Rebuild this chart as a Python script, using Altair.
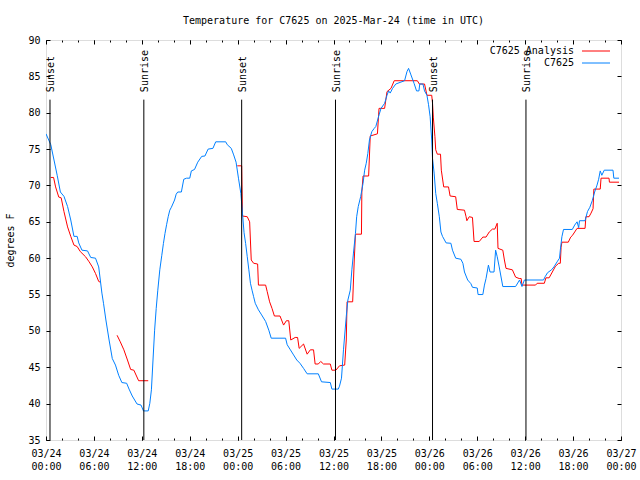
import altair as alt
import pandas as pd

# ---------------- data (hours since 03/24 00:00 UTC, degrees F) ----------------
blue_h = [0.0, 0.6, 1.0, 1.4, 1.8, 2.25, 2.7, 3.1, 3.5, 3.9, 4.1, 4.5, 5.2, 5.6, 6.2, 6.6, 6.8, 7.0, 7.2, 7.5,
          7.9, 8.3, 8.7, 9.1, 9.5, 10.1, 10.4, 10.8, 11.4, 11.9, 12.2, 12.8, 13.0, 13.2, 13.4, 13.6, 13.8, 14.0,
          14.25, 14.5, 14.7, 14.9, 15.1, 15.3, 15.5, 15.7, 16.1, 16.3, 16.5, 16.95, 17.25, 17.6, 18.0, 18.2, 18.6,
          19.0, 19.5, 19.9, 20.3, 20.9, 21.25, 22.5, 22.7, 23.2, 23.5, 23.8, 24.1, 24.4, 24.6, 24.8, 25.0, 25.2,
          25.4, 25.6, 25.8, 26.0, 26.2, 26.6, 27.0, 27.5, 27.9, 28.2, 30.0, 30.2, 30.6, 31.0, 31.4, 31.8, 32.25,
          32.7, 34.1, 34.5, 35.6, 35.8, 36.6, 36.75, 37.0, 37.25, 37.6, 37.8, 38.1, 38.3, 38.5, 38.75, 38.9, 39.1,
          39.4, 39.7, 39.9, 40.1, 40.3, 40.5, 40.8, 41.1, 41.3, 41.7, 41.95, 42.4, 42.7, 42.9, 43.1, 43.4, 43.8,
          44.9, 45.2, 45.4, 45.7, 46.1, 46.4, 46.7, 46.8, 47.2, 47.4, 47.7, 47.9, 48.1, 48.3, 48.4, 48.6, 48.8,
          49.0, 49.25, 49.45, 49.65, 50.1, 50.7, 50.9, 51.3, 51.95, 52.2, 52.4, 52.8, 53.2, 53.4, 54.0, 54.1, 54.7,
          54.9, 55.1, 55.4, 55.6, 56.1, 56.3, 56.5, 56.75, 57.2, 58.8, 59.3, 59.6, 59.9, 62.3, 62.5, 62.8, 63.3,
          63.6, 64.0, 64.3, 64.4, 64.6, 64.8, 65.9, 66.2, 66.5, 66.7, 66.8, 67.5, 67.8, 68.1, 68.4, 68.7, 69.0,
          69.2, 69.4, 69.6, 69.9, 71.0, 71.1, 71.75]
blue_t = [77.1, 75.6, 73.5, 71.4, 69.1, 68.5, 67.1, 65.25, 63.0, 63.0, 62.1, 61.1, 61.0, 60.1, 60.0, 58.8, 57.0,
          55.2, 53.8, 51.5, 48.75, 46.2, 45.3, 43.9, 42.9, 42.8, 42.0, 41.05, 39.95, 39.8, 39.0, 39.0, 40.05, 41.9,
          46.0, 50.1, 53.1, 55.6, 58.4, 60.4, 62.0, 63.4, 64.6, 65.7, 66.6, 67.0, 68.0, 68.8, 69.1, 69.1, 70.85,
          71.0, 71.0, 72.0, 72.2, 73.2, 74.0, 74.05, 75.0, 75.1, 76.0, 76.0, 75.6, 75.1, 74.2, 73.2, 71.0, 68.9,
          66.2, 63.5, 62.0, 60.2, 58.4, 56.55, 55.6, 54.7, 53.8, 52.9, 52.2, 51.3, 50.1, 49.0, 49.0, 48.1, 47.4,
          46.7, 46.0, 45.55, 44.85, 44.1, 44.1, 43.0, 42.9, 42.0, 42.0, 42.4, 43.5, 47.4, 52.0, 54.25, 55.6, 58.4,
          60.7, 63.4, 65.7, 67.1, 68.45, 70.3, 72.1, 73.05, 74.4, 76.25, 77.4, 77.85, 78.1, 79.7, 80.6, 81.3,
          82.4, 83.0, 82.7, 83.35, 83.95, 84.4, 85.65, 86.1, 85.2, 84.0, 83.0, 83.0, 83.95, 83.95, 83.0, 82.4,
          81.1, 79.45, 76.25, 73.7, 71.7, 68.9, 67.55, 65.7, 63.6, 63.0, 62.1, 62.05, 61.1, 60.0, 59.85, 59.3,
          58.1, 57.0, 56.5, 56.0, 55.9, 55.0, 55.0, 56.3, 57.2, 59.05, 58.1, 58.1, 61.1, 60.2, 58.8, 56.1, 56.1,
          57.0, 56.1, 57.0, 57.0, 57.45, 58.0, 58.4, 58.8, 59.5, 60.0, 61.1, 62.95, 63.95, 63.95, 64.55, 65.0,
          64.2, 65.15, 65.15, 66.4, 67.0, 67.9, 69.1, 70.05, 70.85, 72.0, 71.4, 72.1, 72.1, 71.0, 71.0]

red_h = [0.6, 0.95, 1.2, 1.6, 1.9, 2.25, 2.7, 3.1, 3.5, 3.9, 4.3, 4.95, 5.4, 5.8, 6.2, 6.6, 6.8,
         8.9, 9.3, 9.75, 10.2, 10.6, 11.0, 11.6, 12.8,
         23.95, 24.5, 24.6, 25.2, 25.5, 25.7, 26.0, 26.5, 26.6, 27.5, 27.7, 28.0, 28.3, 28.6, 29.3, 29.75, 30.1,
         30.4, 30.65, 31.2, 31.5, 31.7, 32.25, 32.7, 33.1, 33.5, 33.7, 34.1, 34.4, 34.75, 35.6, 35.8, 36.3, 36.75,
         37.4, 37.6, 37.7, 38.4, 38.6, 38.75, 39.5, 39.55, 39.7, 40.4, 40.6, 41.5, 41.7, 42.4, 42.7, 43.2, 43.6,
         46.5, 46.75, 47.4, 47.7, 48.3, 48.4, 48.5, 48.7, 48.8, 49.0, 49.4, 49.5, 49.8, 50.4, 50.6, 51.3, 51.5,
         52.4, 52.6, 52.7, 53.0, 53.4, 53.6, 54.25, 54.7, 55.1, 55.5, 55.9, 56.2, 56.5, 56.6, 57.2, 57.4, 57.6,
         58.4, 58.8, 59.25, 59.5, 59.6, 61.3, 61.5, 62.4, 62.6, 63.0, 63.4, 63.8, 64.2, 64.4, 64.5, 64.6, 65.4,
         65.7, 65.9, 66.2, 66.5, 67.5, 67.6, 68.0, 68.25, 68.5, 68.6, 69.4, 69.5, 70.5, 70.55, 71.75]
red_t = [71.1, 71.1, 69.8, 68.4, 68.3, 66.4, 64.3, 63.0, 61.8, 61.6, 60.9, 60.2, 59.5, 58.8, 57.9, 56.8, 56.7,
         49.4, 48.5, 47.4, 46.0, 44.7, 44.6, 43.15, 43.15,
         72.7, 72.7, 65.8, 65.7, 65.0, 59.75, 59.3, 59.2, 56.3, 56.3, 55.4, 54.0, 53.1, 52.05, 52.05, 50.8, 51.4,
         51.4, 48.75, 49.1, 49.1, 47.6, 48.2, 46.8, 47.4, 47.4, 45.45, 45.45, 45.8, 45.45, 45.45, 44.6, 44.6, 45.2,
         45.3, 48.75, 54.0, 54.0, 59.75, 63.3, 63.3, 69.1, 71.3, 71.3, 76.8, 77.1, 80.6, 80.6, 82.9, 83.35, 84.4,
         84.4, 83.95, 83.95, 82.4, 82.4, 81.3, 79.4, 76.7, 74.9, 74.3, 74.3, 72.1, 69.8, 69.8, 68.55, 68.45, 66.7,
         66.6, 65.7, 65.15, 65.7, 65.6, 62.3, 62.3, 62.9, 62.9, 63.6, 64.0, 64.0, 64.8, 61.35, 61.1, 59.75, 58.6,
         58.4, 57.4, 57.2, 57.2, 56.3, 56.3, 56.55, 56.55, 57.3, 57.3, 58.1, 58.9, 59.3, 59.3, 61.5, 62.2, 62.2,
         62.9, 63.1, 63.6, 64.1, 64.1, 65.7, 65.7, 66.2, 66.8, 69.5, 69.5, 71.0, 71.0, 70.45, 70.45]
red_seg = [1] * 17 + [2] * 8 + [3] * (len(red_h) - 25)

sun_h = [0.5, 12.25, 24.5, 36.25, 48.4, 60.1]
sun_label = ["Sunset", "Sunrise", "Sunset", "Sunrise", "Sunset", "Sunrise"]
sun_top = 81.8
y_floor = 35

series_names = ["C7625 Analysis", "C7625"]
series_colors = ["#ff0000", "#0080ff"]

x_major = list(range(0, 73, 6))
x_minor = list(range(0, 73, 2))
y_ticks = list(range(35, 91, 5))

title_text = "Temperature for C7625 on 2025-Mar-24 (time in UTC)"
y_title = "degrees F"

# ---------------- tables ----------------
red_df = pd.DataFrame({"h": red_h, "t": red_t, "seg": red_seg, "series": series_names[0]})
blue_df = pd.DataFrame({"h": blue_h, "t": blue_t, "seg": 0, "series": series_names[1]})
sun_df = pd.DataFrame({"h": sun_h, "label": sun_label, "top": sun_top, "bottom": y_floor})

FONT = "DejaVu Sans Mono"
FS = 10

xscale = alt.Scale(domain=[0, 72], nice=False, zero=False)
yscale = alt.Scale(domain=[35, 90], nice=False, zero=False)
cscale = alt.Scale(domain=series_names, range=series_colors)

legend = alt.Legend(title=None, orient="none", legendX=545, legendY=6,
                    symbolType="M-14,0H14", symbolSize=4, symbolStrokeWidth=1,
                    labelAlign="right", labelOffset=alt.ExprRef(expr="-27"), labelFont=FONT,
                    labelFontSize=FS, labelColor="black", padding=0, rowPadding=2, labelLimit=0)

label_expr = ("['03/' + (24 + floor(datum.value / 24)), "
              "(datum.value % 24 < 10 ? '0' : '') + (datum.value % 24) + ':00']")

def ax(orient, values, size, labels=False, **kw):
    return alt.Axis(orient=orient, values=values, tickSize=alt.ExprRef(expr=str(-size)),
                    labels=labels, grid=False, domain=False, tickColor="black",
                    title=None, **kw)

red_layer = alt.Chart(red_df).mark_line(strokeWidth=1, clip=True).encode(
    x=alt.X("h:Q", scale=xscale,
            axis=ax("bottom", x_major, 4, labels=True, labelExpr=label_expr, labelFont=FONT,
                    labelFontSize=FS, labelColor="black", labelPadding=12, labelLineHeight=13,
                    labelBaseline="top", labelFlush=False, labelOverlap=False)),
    y=alt.Y("t:Q", scale=yscale,
            axis=alt.Axis(orient="left", values=y_ticks, tickSize=alt.ExprRef(expr="-4"),
                          labelFont=FONT, labelFontSize=FS, labelColor="black", labelPadding=10,
                          grid=False, domain=False, tickColor="black",
                          title=y_title, titleFont=FONT, titleFontSize=FS, titleFontWeight="normal",
                          titleColor="black", titlePadding=12)),
    color=alt.Color("series:N", scale=cscale, legend=legend),
    detail="seg:N",
    order="h:Q",
)

blue_layer = alt.Chart(blue_df).mark_line(strokeWidth=1, clip=True).encode(
    x=alt.X("h:Q", scale=xscale, axis=ax("bottom", x_minor, 2)),
    y=alt.Y("t:Q", scale=yscale, axis=None),
    color=alt.Color("series:N", scale=cscale, legend=legend),
    detail="seg:N",
    order="h:Q",
)

sun_rules = alt.Chart(sun_df).mark_rule(color="black", strokeWidth=1).encode(
    x=alt.X("h:Q", scale=xscale, axis=ax("top", x_major, 4)),
    y=alt.Y("top:Q", scale=yscale, axis=ax("right", y_ticks, 4)),
    y2="bottom:Q",
)

sun_text = alt.Chart(sun_df).mark_text(angle=270, align="left", baseline="middle", dx=7.5, dy=1.5,
                                       font=FONT, fontSize=FS, color="black").encode(
    x=alt.X("h:Q", scale=xscale, axis=ax("top", x_minor, 2)),
    y=alt.Y("top:Q", scale=yscale, axis=None),
    text="label:N",
)

chart = alt.layer(red_layer, blue_layer, sun_rules, sun_text).resolve_axis(
    x="independent", y="independent"
).properties(
    width=575, height=400,
    title=alt.TitleParams(title_text, font=FONT, fontSize=FS, fontWeight="normal", color="black",
                          anchor="middle", offset=9),
    autosize=alt.AutoSizeParams(type="none"),
    padding={"left": 46, "top": 40, "right": 19, "bottom": 40},
).configure_view(stroke="black", strokeWidth=1).configure(background="white")

chart.save("out.html", embed_options={"renderer": "svg", "actions": False})
